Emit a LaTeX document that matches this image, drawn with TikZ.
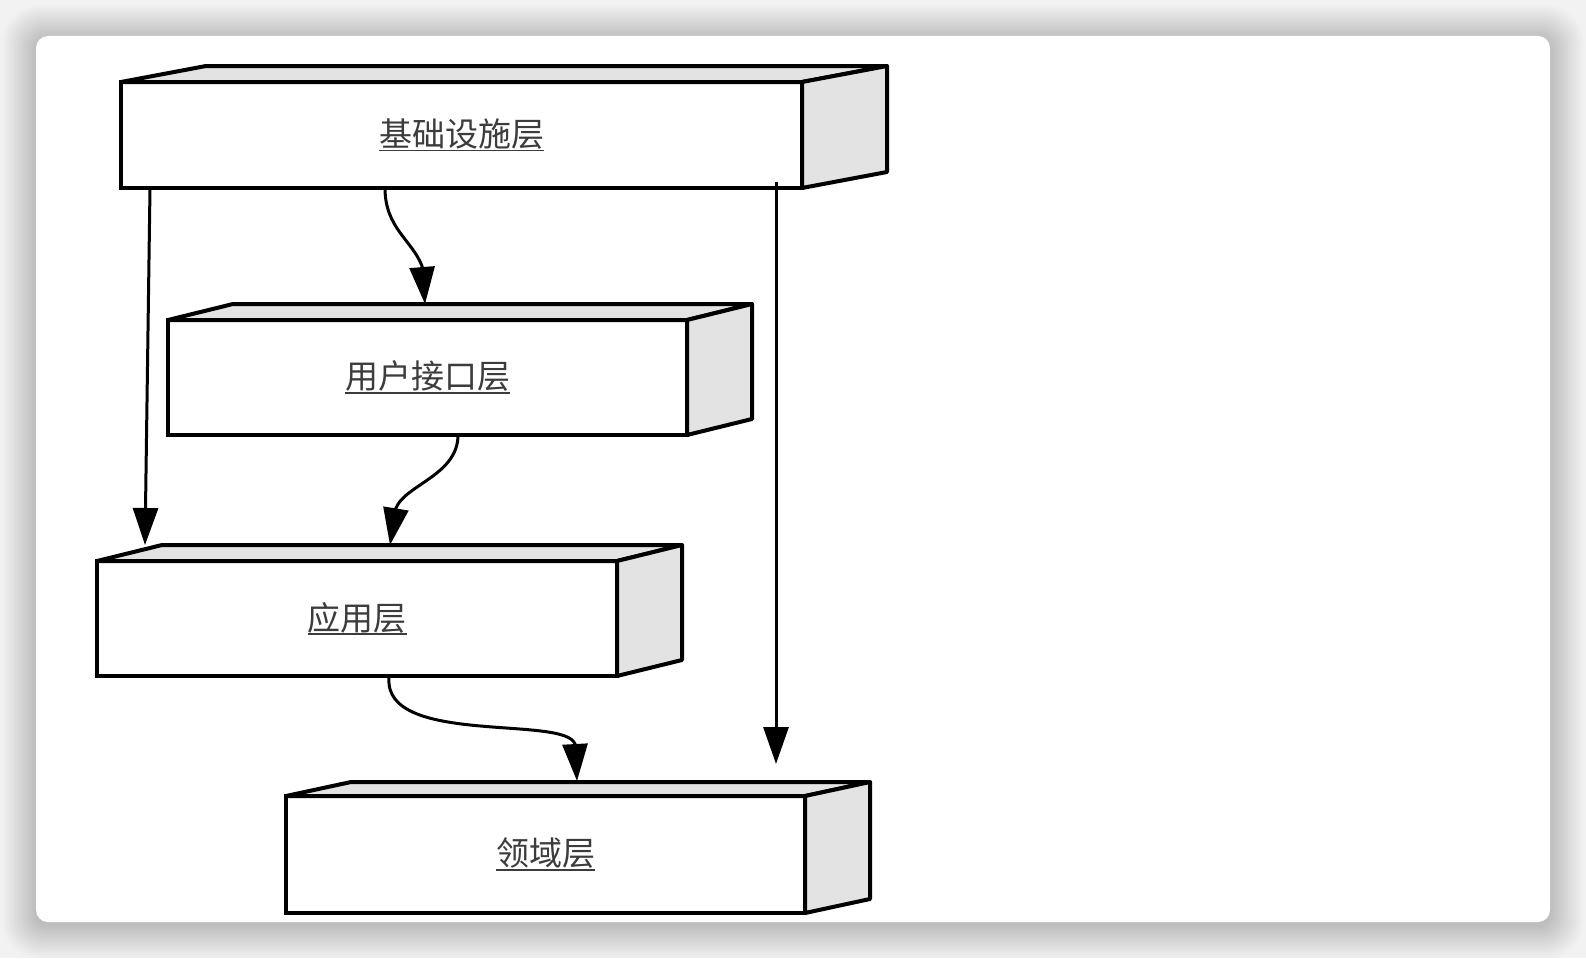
\documentclass[tikz,border=0pt]{standalone}
\usepackage{fontspec}
\newfontfamily\cjk{Noto Sans CJK SC}
\usetikzlibrary{arrows.meta,calc}
\definecolor{facegray}{HTML}{E3E3E3}
\definecolor{labelgray}{HTML}{3C3C3C}
\definecolor{pagegray}{HTML}{F2F2F2}
\newcommand{\ulabel}[1]{\setbox0\hbox{#1}\rlap{\rule[-5pt]{\wd0}{1.8pt}}\box0}
\tikzset{
  frontface/.style={draw, line width=4pt, fill=white, inner sep=0pt, outer sep=0pt,
    font=\cjk\fontsize{33}{40}\selectfont, text=labelgray},
  sideface/.style={draw, line width=4pt, fill=facegray, line join=round},
  link/.style={draw, line width=3pt, -{Triangle[width=25pt,length=37pt]}},
}
\begin{document}
\begin{tikzpicture}[x=1pt,y=-1pt]
\useasboundingbox (0,0) rectangle (1586,958);
% page and card with soft shadow
\fill[pagegray] (0,0) rectangle (1586,958);
\foreach \i in {1,...,26}{
  \fill[black,opacity=0.0065,rounded corners={12pt+\i*1pt}]
    (36-\i*1.3,39-\i*1.3) rectangle (1550+\i*1.3,925+\i*1.3);
}
\fill[white,rounded corners=12pt] (36,36) rectangle (1550,922);

% layer boxes (front faces)
\node[frontface, minimum width=681pt, minimum height=106pt] (b1) at (461.5,135) {\raisebox{-2pt}{\ulabel{基础设施层}}};
\node[frontface, minimum width=519pt, minimum height=115pt] (b2) at (427.5,377.5) {\raisebox{-2pt}{\ulabel{用户接口层}}};
\node[frontface, minimum width=520pt, minimum height=115pt] (b3) at (357,618.5) {\raisebox{-2pt}{\ulabel{应用层}}};
\node[frontface, minimum width=519pt, minimum height=117pt] (b4) at (545.5,854.5) {\raisebox{-2pt}{\ulabel{领域层}}};

% 3D top and side faces
\foreach \b/\dx/\dy in {b1/85/16, b2/65/16, b3/65/16, b4/65/14}{
  \path[sideface] (\b.north west) -- ++(\dx,-\dy) -- ($(\b.north east)+(\dx,-\dy)$) -- (\b.north east) -- cycle;
  \path[sideface] (\b.north east) -- ++(\dx,-\dy) -- ($(\b.south east)+(\dx,-\dy)$) -- (\b.south east) -- cycle;
  \draw[line width=4pt] (\b.south west) rectangle (\b.north east);
}

% connectors
\coordinate (eEnd) at ($(b4.north west)+(490,-32)$);
\draw[link] ($(b1.south west)+(29,0)$) -- ($(b3.north west)+(48,-16)$);
\draw[link] ($(b1.south west)+(264,0)$) .. controls ($(b1.south west)+(264,40)$) and ($(b2.north west)+(244,-80)$) .. ($(b2.north west)+(254,-54)$) -- ($(b2.north west)+(257,-16)$);
\draw[link] ($(b2.south west)+(290,0)$) .. controls ($(b2.south west)+(290,40)$) and ($(b3.north west)+(308,-76)$) .. ($(b3.north west)+(299,-53)$) -- ($(b3.north west)+(293,-16)$);
\draw[link] ($(b3.south west)+(292,2)$) .. controls ($(b3.south west)+(287,70)$) and ($(b4.north west)+(279,-81)$) .. ($(b4.north west)+(289,-52)$) -- ($(b4.north west)+(291,-15)$);
\draw[link] ($(b1.south east)+(-26,-6)$) -- (eEnd);
\end{tikzpicture}
\end{document}
